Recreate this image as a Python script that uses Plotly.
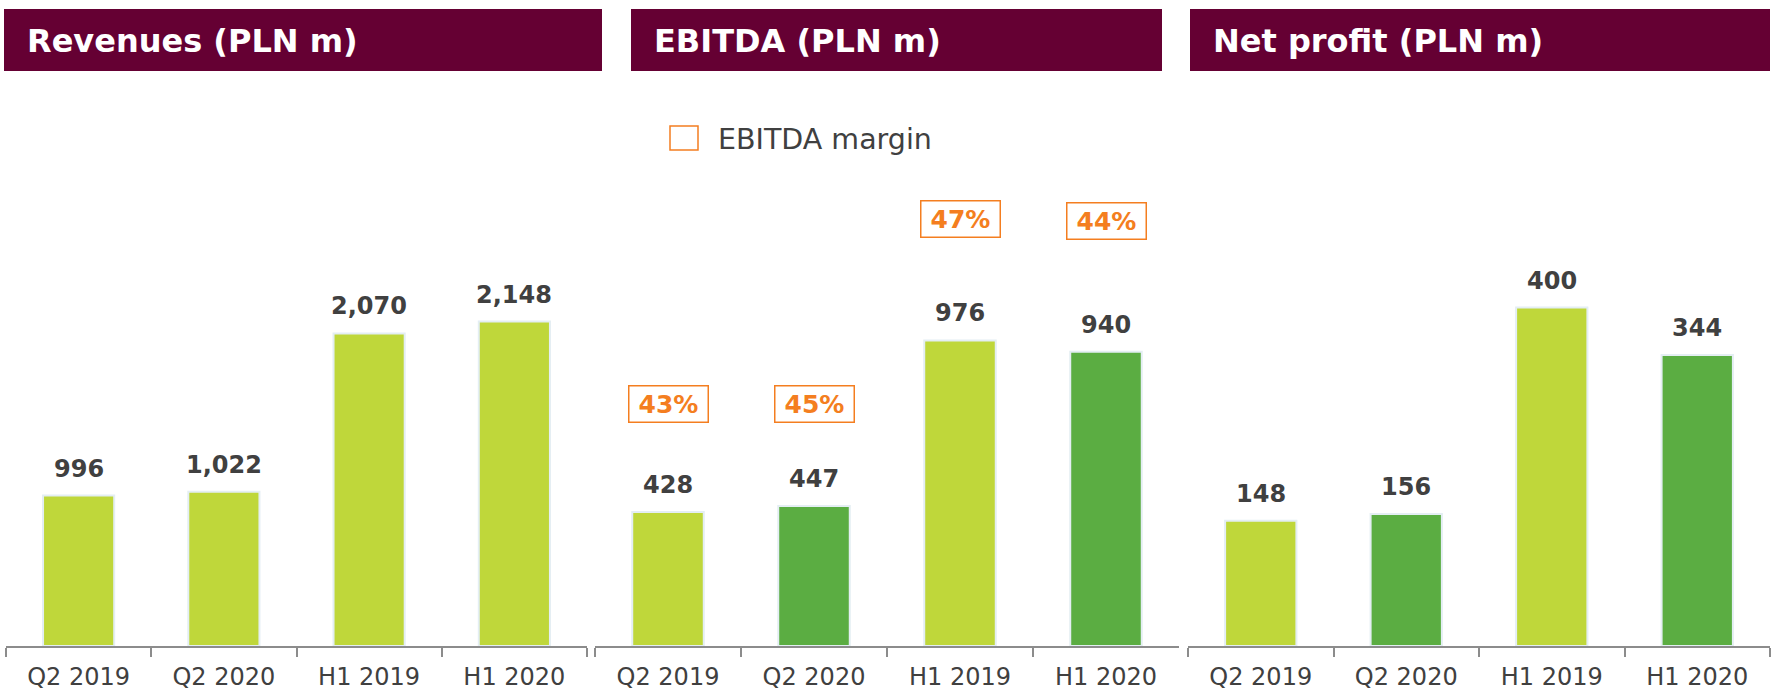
import plotly.graph_objects as go

# ---- data ----
categories = ["Q2 2019", "Q2 2020", "H1 2019", "H1 2020"]
revenues = [996, 1022, 2070, 2148]
ebitda = [428, 447, 976, 940]
net_profit = [148, 156, 400, 344]
ebitda_margin = [43, 45, 47, 44]
panel_titles = ["Revenues (PLN m)", "EBITDA (PLN m)", "Net profit (PLN m)"]
legend_label = "EBITDA margin"

# ---- style ----
W, H = 1777, 692
LIGHT = "#BFD73A"
DARK = "#5BAD42"
MAROON = "#650033"
ORANGE = "#F47E20"
TEXT = "#404040"
AXIS = "#8C8C8C"
FONT = "DejaVu Sans"


def fx(px):
    return px / W


def fy(py):
    return 1 - py / H


panel_colors = [[LIGHT] * 4, [LIGHT, DARK, LIGHT, DARK], [LIGHT, DARK, LIGHT, DARK]]
panel_values = [revenues, ebitda, net_profit]
x_domains = [(6, 587), (595, 1179), (1188, 1770)]
y_max = [3748, 1808, 669]
y_dom = [fy(646), fy(80)]
header_boxes = [(4, 602), (631, 1162), (1190, 1770)]
margin_label_y = [404, 404, 219, 221]  # pixel rows of margin boxes

fig = go.Figure()
annotations = []
shapes = []

for i, (vals, cols) in enumerate(zip(panel_values, panel_colors)):
    sfx = "" if i == 0 else str(i + 1)
    fig.add_trace(go.Bar(
        x=categories, y=vals, width=0.49,
        marker=dict(color=cols, line=dict(color="#E4EEF3", width=2)),
        xaxis="x" + sfx, yaxis="y" + sfx, showlegend=False, hoverinfo="x+y",
    ))
    fig.layout["xaxis" + sfx] = dict(
        domain=[fx(x_domains[i][0]), fx(x_domains[i][1])],
        anchor="y" + sfx, type="category", range=[-0.5, 3.5],
        showline=True, linecolor=AXIS, linewidth=2,
        ticks="outside", tickson="boundaries", ticklen=9, tickwidth=2, tickcolor=AXIS,
        ticklabelstandoff=8,
        tickfont=dict(family=FONT, size=24, color=TEXT),
        showgrid=False, zeroline=False, automargin=False, fixedrange=True,
    )
    fig.layout["yaxis" + sfx] = dict(
        domain=y_dom, anchor="x" + sfx, range=[0, y_max[i]],
        visible=False, showgrid=False, zeroline=False, automargin=False, fixedrange=True,
    )
    for c, v in zip(categories, vals):
        annotations.append(dict(
            x=c, y=v, xref="x" + sfx, yref="y" + sfx, text="<b>{:,}</b>".format(v),
            showarrow=False, yanchor="middle", yshift=27,
            font=dict(family=FONT, size=24, color=TEXT),
        ))
    # header
    x0, x1 = header_boxes[i]
    shapes.append(dict(type="rect", xref="paper", yref="paper",
                       x0=fx(x0), x1=fx(x1), y0=fy(71), y1=fy(9),
                       fillcolor=MAROON, line=dict(width=0), layer="below"))
    annotations.append(dict(
        x=fx(x0 + 21), y=fy(41), xref="paper", yref="paper", xanchor="left", yanchor="middle",
        text="<b>" + panel_titles[i] + "</b>", showarrow=False,
        font=dict(family=FONT, size=32, color="white"),
    ))

# EBITDA margin boxes
for c, m, py in zip(categories, ebitda_margin, margin_label_y):
    annotations.append(dict(
        x=c, y=fy(py), xref="x2", yref="paper", text="<b>{}%</b>".format(m),
        showarrow=False, xanchor="center", yanchor="middle",
        width=76, height=33, borderpad=1,
        bordercolor=ORANGE, borderwidth=1.5, bgcolor="white",
        font=dict(family=FONT, size=25, color=ORANGE),
    ))

# legend
shapes.append(dict(type="rect", xref="paper", yref="paper",
                   x0=fx(670), x1=fx(698), y0=fy(150), y1=fy(126),
                   fillcolor="white", line=dict(color=ORANGE, width=1.5)))
annotations.append(dict(
    x=fx(716), y=fy(139), xref="paper", yref="paper", xanchor="left", yanchor="middle",
    text=legend_label, showarrow=False, font=dict(family=FONT, size=28.5, color=TEXT),
))

fig.update_layout(
    width=W, height=H, margin=dict(l=0, r=0, t=0, b=0),
    paper_bgcolor="white", plot_bgcolor="white",
    annotations=annotations, shapes=shapes, showlegend=False,
    bargap=0.51,
)

fig.write_html("out.html", config={"displayModeBar": False},
               post_script="document.body.style.margin='0';")
